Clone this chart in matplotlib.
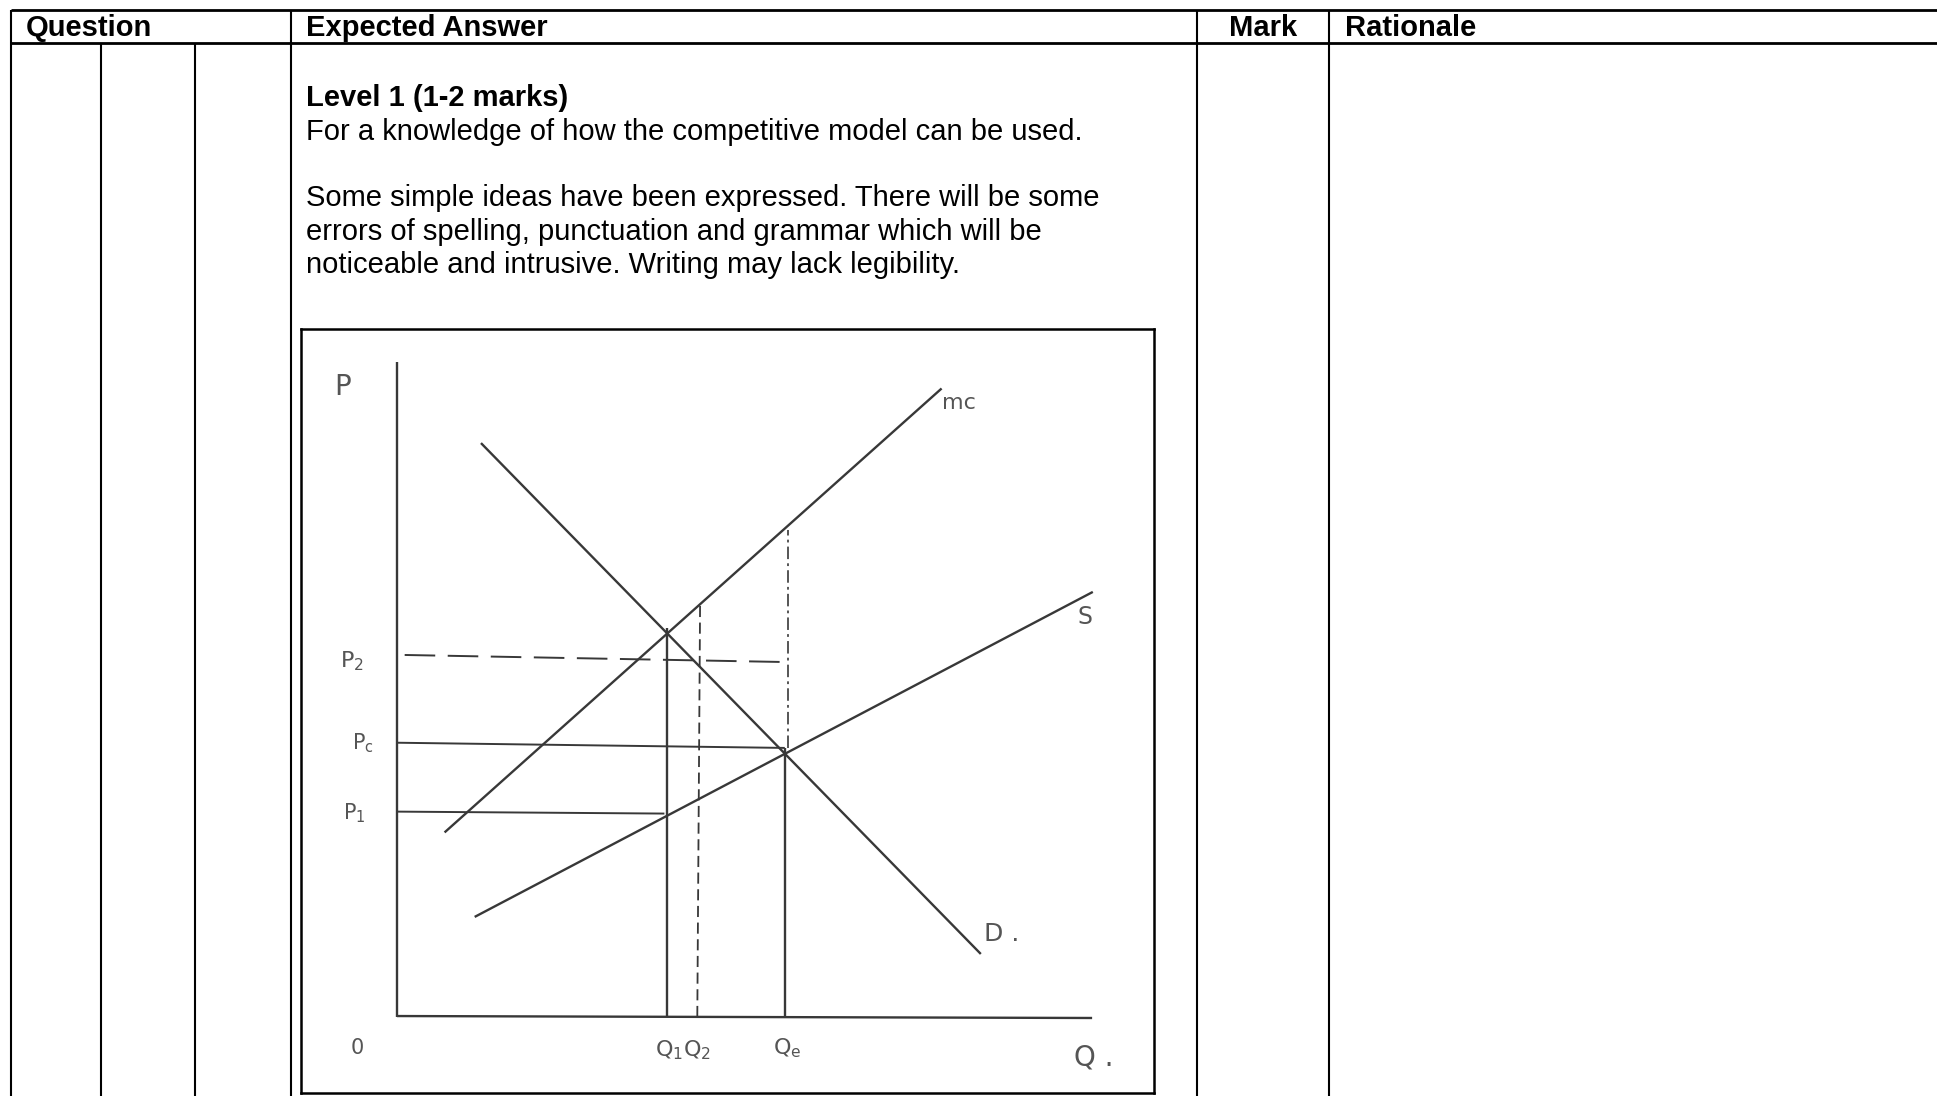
import matplotlib
matplotlib.use('Agg')
import matplotlib.pyplot as plt

plt.rcParams['lines.scale_dashes'] = False
plt.rcParams['lines.solid_capstyle'] = 'butt'

# --- table text ---
headers = ['Question', 'Expected Answer', 'Mark', 'Rationale']
header_x = [26, 306, 1229, 1345]
level_title = 'Level 1 (1-2 marks)'
level_text = ['For a knowledge of how the competitive model can be used.',
              '',
              'Some simple ideas have been expressed. There will be some',
              'errors of spelling, punctuation and grammar which will be',
              'noticeable and intrusive. Writing may lack legibility.']

# --- diagram data (Q along, P up) ---
mc_q = [6.8, 77.8]
mc_p = [28.4, 96.7]
d_q = [12.0, 83.4]
d_p = [88.3, 9.7]
s_q = [11.1, 99.4]
s_p = [15.4, 65.4]

p2 = [55.7, 54.6]      # dashed, left/right end
p2_q_end = 56.1
pc = [42.2, 41.4]
pc_q_end = 55.4
p1 = 31.6
p1_q_end = 38.2

q1 = 38.6
q1_top = 59.8
q2 = [42.9, 43.3]      # bottom/top
q2_top = 63.8
qe = 55.4
qe_top = 41.4
qe_dash = 55.9
qe_dash_top = 74.9

q_max = 99.3
p_max = 100.8

fig = plt.figure(figsize=(19.37, 10.96), dpi=100)

# page layer in pixel coordinates
page = fig.add_axes([0, 0, 1, 1])
page.set_xlim(0, 1937)
page.set_ylim(1096, 0)
page.axis('off')

page.plot([11, 1937], [9.7, 9.7], color='black', lw=2.0)
page.plot([11, 1937], [43.3, 43.3], color='black', lw=2.0)
for x in [11, 291, 1197, 1329]:
    page.plot([x, x], [9.7, 1096], color='black', lw=1.5)
for x in [100.7, 195]:
    page.plot([x, x], [43.3, 1096], color='black', lw=1.5)

font = ['Liberation Sans', 'DejaVu Sans']
fs = 21
for h, x in zip(headers, header_x):
    page.text(x, 36, h, fontsize=fs, fontweight='bold', family=font,
              va='baseline', ha='left')

page.text(306, 106, level_title, fontsize=fs, fontweight='bold', family=font,
          va='baseline', ha='left')
y = 139.5
for line in level_text:
    if line:
        page.text(306, y, line, fontsize=fs, family=font, va='baseline', ha='left')
    y += 33.4

# diagram
x0, x1, y0, y1 = 301, 1154, 329, 1093
ax = fig.add_axes([x0 / 1937, (1096 - y1) / 1096, (x1 - x0) / 1937, (y1 - y0) / 1096])
ax.set_xlim(-13.71, 108.14)
ax.set_ylim(-11.69, 105.85)
ax.set_xticks([])
ax.set_yticks([])
for sp in ax.spines.values():
    sp.set_linewidth(1.8)
    sp.set_color('black')

ink = '#383838'
lw = 1.7
ax.plot([0, 0], [0, p_max], color=ink, lw=lw)
ax.plot([0, q_max], [0.15, -0.15], color=ink, lw=lw)

ax.plot(mc_q, mc_p, color=ink, lw=lw)
ax.plot(d_q, d_p, color=ink, lw=lw)
ax.plot(s_q, s_p, color=ink, lw=lw)

ax.plot([1.1, p2_q_end], p2, color=ink, lw=1.4, linestyle=(0, (22, 9)))
ax.plot([0, pc_q_end], pc, color=ink, lw=1.4)
ax.plot([0, p1_q_end], [p1, p1 - 0.3], color=ink, lw=1.4)

ax.plot([q1, q1], [0, q1_top], color=ink, lw=1.7)
ax.plot(q2, [0, q2_top], color=ink, lw=1.3, linestyle=(0, (8, 4)))
ax.plot([qe, qe], [0, qe_top], color=ink, lw=1.7)
ax.plot([qe_dash, qe_dash], [qe_top, qe_dash_top], color=ink, lw=1.2,
        linestyle=(0, (9, 3, 2, 3)))

hand = '#555555'
labels = [('P', -7.7, 97.0, 20),
          (r'$\mathregular{P_2}$', -6.4, 54.8, 16),
          (r'$\mathregular{P_c}$', -4.9, 42.2, 15),
          (r'$\mathregular{P_1}$', -6.1, 31.4, 15),
          ('0', -5.7, -4.8, 15),
          (r'$\mathregular{Q_1 Q_2}$', 40.9, -5.1, 16),
          (r'$\mathregular{Q_e}$', 55.7, -4.8, 16),
          ('Q .', 99.5, -6.3, 20),
          ('mc', 80.3, 94.5, 16),
          ('S', 98.3, 61.5, 17),
          ('D .', 86.4, 12.8, 18)]
for txt, q, p, size in labels:
    ax.text(q, p, txt, color=hand, fontsize=size, ha='center', va='center',
            family=['DejaVu Sans'])

fig.savefig('out.png', dpi=100)
